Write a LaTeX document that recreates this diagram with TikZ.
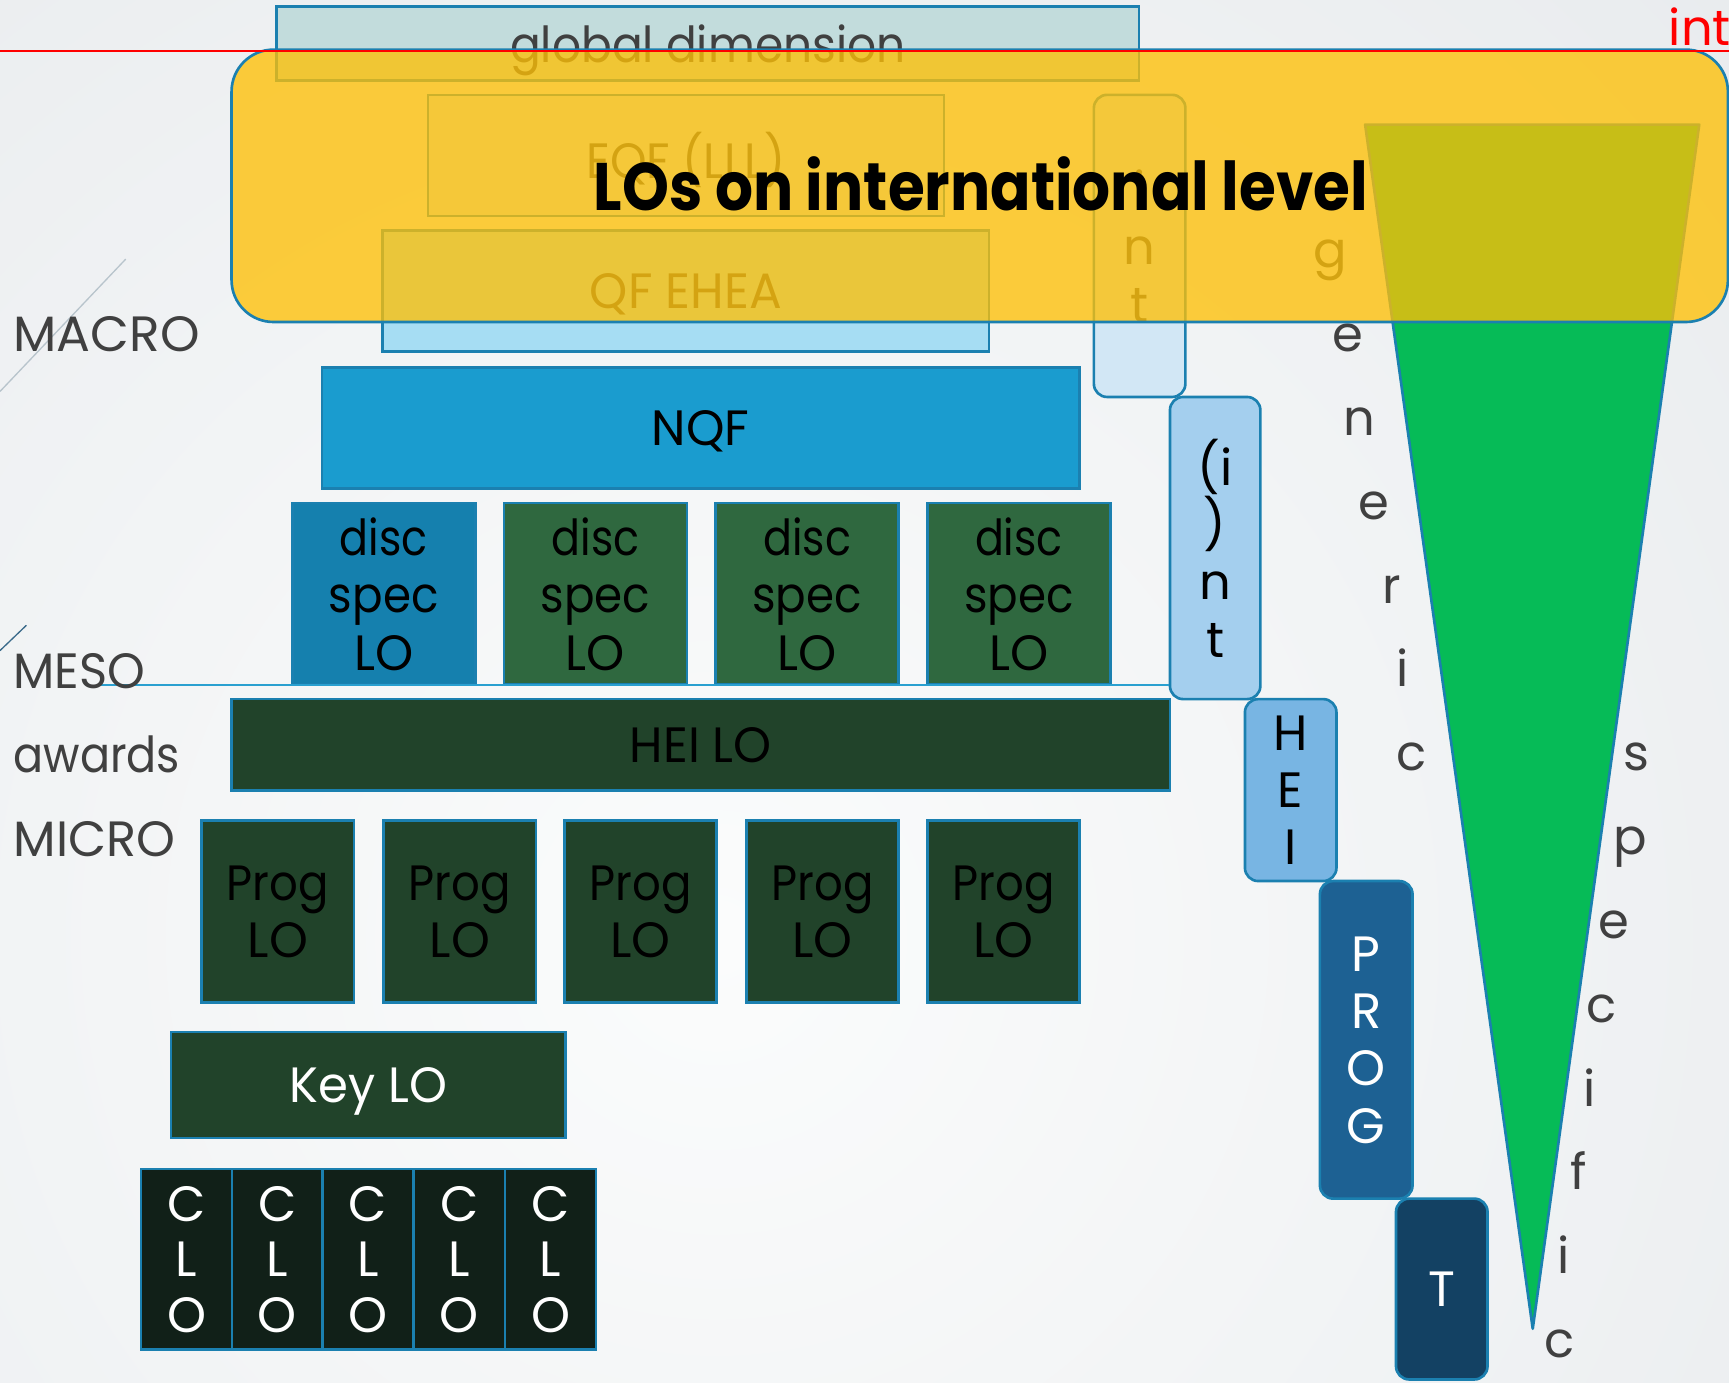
\documentclass[tikz,border=0pt]{standalone}
\usepackage{fontspec}
\setmainfont{Poppins}
\usepackage{graphicx}

% palette
\definecolor{bordblue}{RGB}{27,128,176}
\definecolor{bggray}{RGB}{222,226,230}
\definecolor{bgwhite}{RGB}{251,252,252}
\definecolor{gdfill}{RGB}{194,220,220}
\definecolor{eqffill}{RGB}{214,232,242}
\definecolor{qffill}{RGB}{166,221,243}
\definecolor{nqffill}{RGB}{26,156,207}
\definecolor{discblue}{RGB}{21,128,174}
\definecolor{discgreen}{RGB}{47,104,63}
\definecolor{darkgreen}{RGB}{33,67,42}
\definecolor{clofill}{RGB}{17,32,24}
\definecolor{intA}{RGB}{210,231,245}
\definecolor{intB}{RGB}{164,207,238}
\definecolor{heibox}{RGB}{120,181,227}
\definecolor{progbox}{RGB}{29,97,147}
\definecolor{tbox}{RGB}{19,65,99}
\definecolor{trigreen}{RGB}{6,187,87}
\definecolor{txtgray}{RGB}{64,64,64}
\definecolor{ygold}{RGB}{254,192,6}
\definecolor{declight}{RGB}{184,196,204}
\definecolor{decdark}{RGB}{58,106,138}
\definecolor{rulecol}{RGB}{42,160,208}

% fonts
\newcommand{\boxfont}{\fontsize{22.5}{26}\selectfont}
\newcommand{\clofont}{\fontsize{22.5}{25.2}\selectfont}
\newcommand{\titlefont}{\fontsize{30.5}{34}\selectfont\bfseries}
% set a word to a given width (pt), keeping its height
\newcommand{\fitw}[2]{\resizebox{#1pt}{\height}{#2}}

\tikzset{
  box/.style={draw=bordblue, line width=1.2pt, inner sep=0pt, align=center,
              font=\boxfont, text depth=0pt},
  sq/.style={box},
  rbox/.style={box, rounded corners=6pt},
  at box/.style args={#1/#2/#3/#4}{
    minimum width={(#3-#1)*0.5pt},
    minimum height={(#4-#2)*0.5pt},
    at={({(#1+#3)/2},{(#2+#4)/2})}},
  lbl/.style={font=\boxfont, text=txtgray, inner sep=0pt},
}

\begin{document}
\begin{tikzpicture}[x=0.5pt,y=-0.5pt]
\useasboundingbox (0,0) rectangle (1568,1254);

% background
\fill[bggray] (0,0) rectangle (1568,1254);
\begin{scope}
  \clip (0,0) rectangle (1568,1254);
  \shade[inner color=bgwhite, outer color=bggray] (-1350,-1150) rectangle (2650,2850);
\end{scope}

% thin decorative strokes on the left
\coordinate (dlA1) at (0,355);
\coordinate (dlA2) at (114,235);
\coordinate (dlB1) at (0,590);
\coordinate (dlB2) at (24,567);
\draw[declight, line width=0.6pt] (dlA1) -- (dlA2);
\draw[decdark, line width=0.6pt] (dlB1) -- (dlB2);

% upper framework boxes (lying under the yellow band)
\node[sq, fill=gdfill, text=txtgray, at box=251/6/1033/73] (gdim) {\fitw{179.3}{global dimension}};
\node[sq, fill=eqffill, text=txtgray, at box=388/86/856/196] (eqf) {\fitw{90.2}{EQF (LLL)}};
\node[sq, fill=qffill, text=txtgray, at box=347/209/897/319] (qfehea) {\fitw{87}{QF EHEA}};
\node[rbox, fill=intA, text=txtgray, at box=992/86/1075/360] (intA) {i\\n\\t};

% generic ... specific wedge
\coordinate (triA) at (1238,113);
\coordinate (triB) at (1541,113);
\coordinate (triC) at (1390,1205);
\filldraw[fill=trigreen, draw=bordblue, line width=1.2pt, line join=round] (triA) -- (triB) -- (triC) -- cycle;

\foreach \ch/\x/\y [count=\k] in {g/1206/243, e/1222/319, n/1233/395, e/1246/471, r/1262/547, i/1272/623, c/1280/699}
  \node[lbl, anchor=base] (gen\k) at (\x,\y) {\ch};
\foreach \ch/\x/\y [count=\k] in {s/1484/699, p/1478/775, e/1464/851, c/1452/927, i/1442/1003, f/1432/1079, i/1418/1155, c/1414/1231}
  \node[lbl, anchor=base] (spec\k) at (\x,\y) {\ch};

% translucent international band
\node[draw=bordblue, line width=1.2pt, fill=ygold, fill opacity=0.78, draw opacity=1,
      rounded corners=19pt, inner sep=0pt, at box=210/45/1567/292] (band) {};
\node[font=\titlefont, anchor=base, inner sep=0pt] (title) at (889.5,191) {\fitw{351}{LOs on international level}};

% red rule across the top
\coordinate (redL) at (0,46.5);
\coordinate (redR) at (1568,46.5);
\draw[red, line width=1pt] (redL) -- (redR);
\node[font=\boxfont, text=red, anchor=base west, inner sep=0pt] (redtxt) at (1513,41) {inte};

% national level
\node[sq, fill=nqffill, at box=292/333/979/443] (nqf) {\fitw{44.3}{NQF}};
\node[sq, fill=discblue, at box=265/456/431/621] (disc1) {\fitw{39.8}{disc}\\\fitw{49.7}{spec}\\\fitw{26.8}{LO}};
\node[sq, fill=discgreen, at box=457/456/623/621] (disc2) {\fitw{39.8}{disc}\\\fitw{49.7}{spec}\\\fitw{26.8}{LO}};
\node[sq, fill=discgreen, at box=649/456/815/621] (disc3) {\fitw{39.8}{disc}\\\fitw{49.7}{spec}\\\fitw{26.8}{LO}};
\node[sq, fill=discgreen, at box=841/456/1007/621] (disc4) {\fitw{39.8}{disc}\\\fitw{49.7}{spec}\\\fitw{26.8}{LO}};

% institution and programme level
\node[sq, fill=darkgreen, at box=210/634/1061/717] (heilo) {\fitw{64.3}{HEI LO}};
\node[sq, fill=darkgreen, at box=183/744/321/909] (prog1) {\fitw{46.3}{Prog}\\\fitw{27.3}{LO}};
\node[sq, fill=darkgreen, at box=348/744/486/909] (prog2) {\fitw{46.3}{Prog}\\\fitw{27.3}{LO}};
\node[sq, fill=darkgreen, at box=512/744/650/909] (prog3) {\fitw{46.3}{Prog}\\\fitw{27.3}{LO}};
\node[sq, fill=darkgreen, at box=677/744/815/909] (prog4) {\fitw{46.3}{Prog}\\\fitw{27.3}{LO}};
\node[sq, fill=darkgreen, at box=841/744/979/909] (prog5) {\fitw{46.3}{Prog}\\\fitw{27.3}{LO}};
\node[sq, fill=darkgreen, text=white, at box=155/936/513/1032] (keylo) {\fitw{71.4}{Key LO}};

% course level
\foreach \xa/\xb [count=\k] in {128/210.5, 210.5/292.5, 292.5/375, 375/458, 458/540.5}
  \node[sq, fill=clofill, text=white, font=\clofont, at box=\xa/1060/\xb/1224] (clo\k) {C\\L\\O};

% staircase of levels
\node[rbox, fill=intB, at box=1061/360/1143/634] (intB) {(i\\)\\n\\t};
\node[rbox, fill=heibox, at box=1129/634/1212/799] (hei) {H\\E\\I};
\node[rbox, fill=progbox, text=white, at box=1197/799/1281/1087] (prog) {P\\R\\O\\G};
\node[rbox, fill=tbox, text=white, at box=1266/1087/1349/1251] (tbox) {T};

% boundary between meso and micro
\coordinate (ruleL) at (88,621);
\draw[rulecol, line width=1pt] (ruleL) -- (ruleL -| intB.west);

% level labels
\node[lbl, anchor=base west] (macro) at (12,318.5) {\fitw{84.4}{MACRO}};
\node[lbl, anchor=base west] (meso) at (12,624) {\fitw{59.7}{MESO}};
\node[lbl, anchor=base west] (awards) at (12,700.5) {\fitw{75.5}{awards}};
\node[lbl, anchor=base west] (micro) at (12,777) {\fitw{73.3}{MICRO}};

\end{tikzpicture}
\end{document}
